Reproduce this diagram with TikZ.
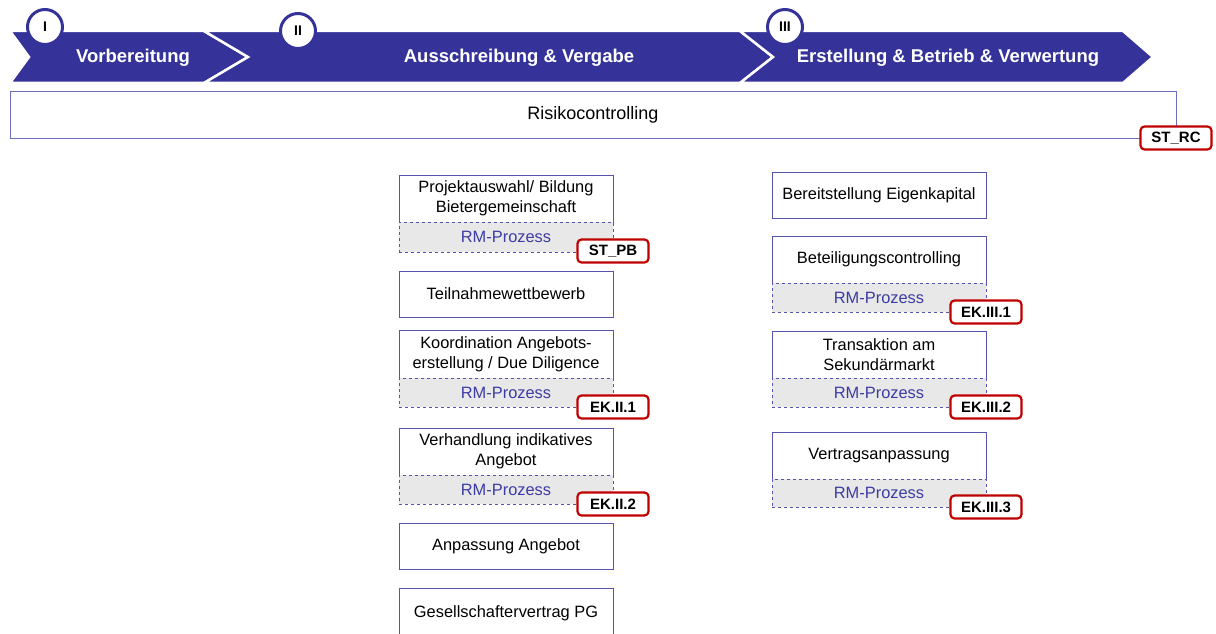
\documentclass[tikz,border=0pt]{standalone}
\usepackage{fontspec}
\setmainfont{Liberation Sans}
\definecolor{hdr}{RGB}{53,51,153}
\definecolor{bord}{RGB}{85,85,175}
\definecolor{rcbord}{RGB}{110,110,190}
\definecolor{rmtxt}{RGB}{60,60,165}
\definecolor{rmfill}{RGB}{232,232,232}
\definecolor{tagred}{RGB}{192,0,0}
\begin{document}
\begin{tikzpicture}[x=1pt,y=-1pt,
  box/.style={draw=bord, line width=0.8pt, fill=white, minimum width=214pt, inner sep=0pt, outer sep=0pt, align=center, anchor=north west, font=\fontsize{16.4}{20}\selectfont},
  rm/.style={draw=bord, dashed, line width=0.8pt, fill=rmfill, minimum width=214pt, minimum height=29pt, inner sep=0pt, outer sep=0pt, anchor=north west, text=rmtxt, font=\fontsize{16.4}{20}\selectfont},
  tag/.style={draw=tagred, line width=2.2pt, rounded corners=4pt, fill=white, minimum width=71pt, minimum height=23pt, inner sep=0pt, font=\fontsize{15}{18}\selectfont\bfseries},
  chev/.style={fill=hdr, draw=white, line width=2.5pt, line join=miter},
  num/.style={circle, fill=white, draw=hdr, line width=3pt, minimum size=35pt, inner sep=0pt, font=\fontsize{14}{14}\selectfont\bfseries},
  hlabel/.style={text=white, inner sep=0pt, font=\fontsize{18.5}{22}\selectfont\bfseries}]
\useasboundingbox (0,0) rectangle (1216,634);
\clip (0,0) rectangle (1216,634);
% header chevrons
\path[chev] (10,31) -- (204,31) -- (248,57) -- (204,83) -- (10,83) -- (29,57) -- cycle;
\path[chev] (204,31) -- (740,31) -- (773,57) -- (740,83) -- (204,83) -- (248,57) -- cycle;
\path[chev] (740,31) -- (1123,31) -- (1153,57) -- (1123,83) -- (740,83) -- (773,57) -- cycle;
\node[hlabel] (h1) at (133,58) {Vorbereitung};
\node[hlabel] (h2) at (519,58) {Ausschreibung \& Vergabe};
\node[hlabel] (h3) at (948,58) {Erstellung \& Betrieb \& Verwertung};
\node[num] (c1) at (45,27) {I};
\node[num] (c2) at (298,31) {II};
\node[num] (c3) at (785,27) {III};
% risk controlling
\node[box, draw=rcbord, minimum width=1166pt, minimum height=47pt, font=\fontsize{18}{22}\selectfont] (rc) at (10,91) {Risikocontrolling};
\node[tag] (trc) at (rc.south east) {ST\_RC};
% left column
\node[box, minimum height=47pt] (p1) at (399,175) {Projektauswahl/ Bildung\\Bietergemeinschaft};
\node[rm, minimum height=30pt] (p1r) at (p1.south west) {RM-Prozess};
\node[tag] (tp1) at ([yshift=1pt]p1r.south east) {ST\_PB};
\node[box, minimum height=46pt] (p2) at (399,271) {Teilnahmewettbewerb};
\node[box, minimum height=48pt] (p3) at (399,330) {Koordination Angebots-\\erstellung / Due Diligence};
\node[rm] (p3r) at (p3.south west) {RM-Prozess};
\node[tag] (tp3) at (p3r.south east) {EK.II.1};
\node[box, minimum height=47pt] (p4) at (399,428) {Verhandlung indikatives\\Angebot};
\node[rm] (p4r) at (p4.south west) {RM-Prozess};
\node[tag] (tp4) at (p4r.south east) {EK.II.2};
\node[box, minimum height=46pt] (p5) at (399,523) {Anpassung Angebot};
\node[box, minimum height=50pt] (p6) at (399,588) {Gesellschaftervertrag PG};
% right column
\node[box, minimum height=46pt] (q1) at (772,172) {Bereitstellung Eigenkapital};
\node[box, minimum height=47pt] (q2) at (772,236) {Beteiligungscontrolling};
\node[rm] (q2r) at (q2.south west) {RM-Prozess};
\node[tag] (tq2) at (q2r.south east) {EK.III.1};
\node[box, minimum height=47pt] (q3) at (772,331) {Transaktion am\\Sekundärmarkt};
\node[rm] (q3r) at (q3.south west) {RM-Prozess};
\node[tag] (tq3) at (q3r.south east) {EK.III.2};
\node[box, minimum height=47pt] (q4) at (772,432) {Vertragsanpassung};
\node[rm, minimum height=28pt] (q4r) at (q4.south west) {RM-Prozess};
\node[tag] (tq4) at (q4r.south east) {EK.III.3};
\end{tikzpicture}
\end{document}
